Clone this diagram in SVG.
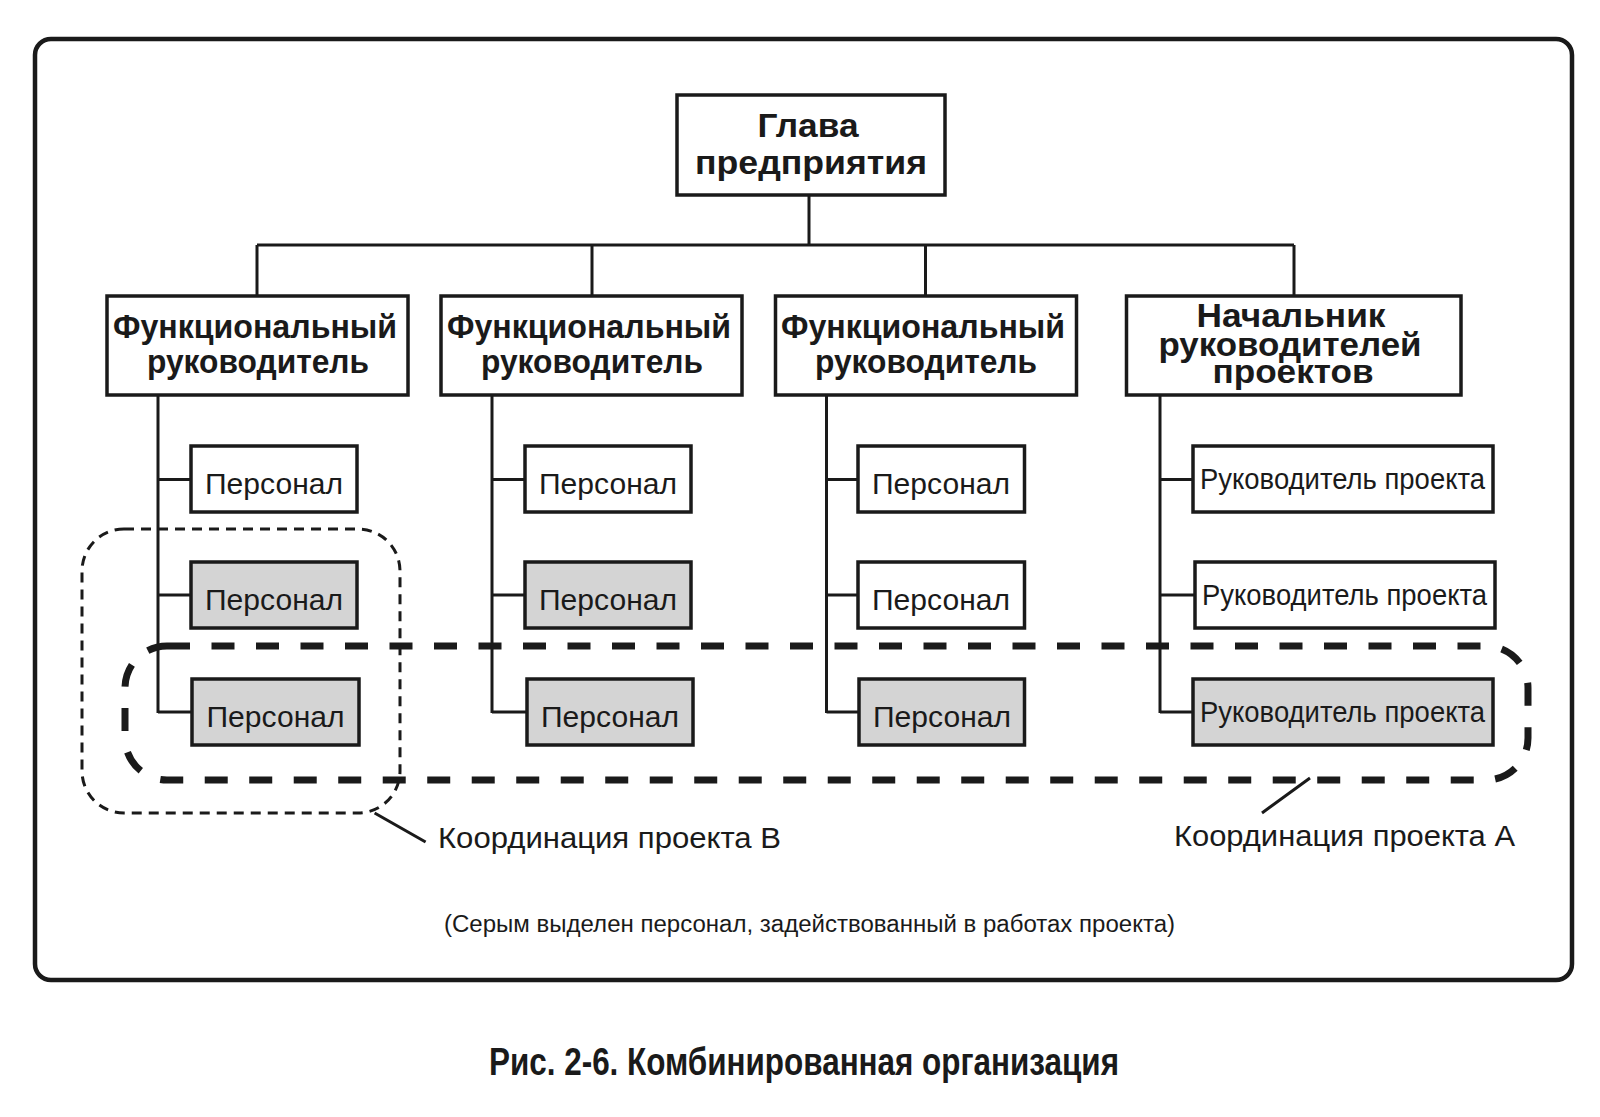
<svg xmlns="http://www.w3.org/2000/svg" width="1600" height="1117" viewBox="0 0 1600 1117">
<style>
.frame{fill:#fff;stroke:#1a1a1a;stroke-width:4.5}
.box{fill:#fff;stroke:#1a1a1a;stroke-width:3.5}
.grey{fill:#d4d4d4}
.ln{fill:none;stroke:#1a1a1a;stroke-width:3}
.hd{font-family:"Liberation Sans Narrow","Liberation Sans",Arial,sans-serif;font-weight:bold;font-size:34px;fill:#1a1a1a;text-anchor:middle}
.pt{font-family:"Liberation Sans","Noto Sans",Arial,sans-serif;font-size:29px;fill:#1a1a1a;text-anchor:middle}
.lbl{font-family:"Liberation Sans","Noto Sans",Arial,sans-serif;font-size:30px;fill:#1a1a1a}
.note{font-family:"Liberation Sans","Noto Sans",Arial,sans-serif;font-size:23px;fill:#1a1a1a;text-anchor:middle}
.cap{font-family:"Liberation Sans Narrow","Liberation Sans",Arial,sans-serif;font-weight:bold;font-size:38px;fill:#1a1a1a;text-anchor:middle}
.projA{fill:none;stroke:#1a1a1a;stroke-width:7;stroke-dasharray:23 21.5}
.projB{fill:none;stroke:#1a1a1a;stroke-width:3;stroke-dasharray:10 7}
</style>
<rect x="0" y="0" width="1600" height="1117" fill="#fff"/>
<rect class="frame" x="35" y="39" width="1537" height="941" rx="16"/>

<g id="connectors">
<path class="ln" d="M809 195V245M257 245H1294M257 245V296M592 245V296M925.5 245V296M1294 245V296"/>
<path class="ln" d="M158 395V713M158 479.5H191M158 595H191M158 712H192"/>
<path class="ln" d="M492 395V713M492 479.5H525M492 595H525M492 712H527"/>
<path class="ln" d="M826.5 395V713M826.5 479.5H858M826.5 595H858M826.5 712H859"/>
<path class="ln" d="M1160 395V713M1160 479.5H1193M1160 595H1195M1160 712H1193"/>
<path class="ln" d="M374.6 813L425.6 842M1310 778L1262 813"/>
</g>

<g id="head">
<rect class="box" x="677" y="95" width="268" height="100"/>
<text class="hd" x="808" y="137" font-size="34" textLength="101" lengthAdjust="spacingAndGlyphs">Глава</text>
<text class="hd" x="811" y="174" font-size="34" textLength="232" lengthAdjust="spacingAndGlyphs">предприятия</text>
</g>

<g id="func1">
<rect class="box" x="107" y="296" width="301" height="99"/>
<text class="hd" x="255" y="338" textLength="284" lengthAdjust="spacingAndGlyphs">Функциональный</text>
<text class="hd" x="258" y="373" textLength="222" lengthAdjust="spacingAndGlyphs">руководитель</text>
</g>
<g id="func2">
<rect class="box" x="441" y="296" width="301" height="99"/>
<text class="hd" x="589" y="338" textLength="284" lengthAdjust="spacingAndGlyphs">Функциональный</text>
<text class="hd" x="592" y="373" textLength="222" lengthAdjust="spacingAndGlyphs">руководитель</text>
</g>
<g id="func3">
<rect class="box" x="775.5" y="296" width="301" height="99"/>
<text class="hd" x="923" y="338" textLength="284" lengthAdjust="spacingAndGlyphs">Функциональный</text>
<text class="hd" x="926" y="373" textLength="222" lengthAdjust="spacingAndGlyphs">руководитель</text>
</g>
<g id="pmhead">
<rect class="box" x="1126.5" y="296" width="334.5" height="99"/>
<text class="hd" x="1291" y="327" font-size="33" textLength="189" lengthAdjust="spacingAndGlyphs">Начальник</text>
<text class="hd" x="1290" y="356" font-size="33" textLength="263" lengthAdjust="spacingAndGlyphs">руководителей</text>
<text class="hd" x="1293" y="383" font-size="33" textLength="161" lengthAdjust="spacingAndGlyphs">проектов</text>
</g>

<g id="staff1a"><rect class="box" x="191" y="446" width="166" height="66"/><text class="pt" x="274" y="494" textLength="138" lengthAdjust="spacingAndGlyphs">Персонал</text></g>
<g id="staff1b"><rect class="box grey" x="191" y="562" width="166" height="66"/><text class="pt" x="274" y="610" textLength="138" lengthAdjust="spacingAndGlyphs">Персонал</text></g>
<g id="staff1c"><rect class="box grey" x="192" y="679" width="167" height="66"/><text class="pt" x="275.5" y="727" textLength="138" lengthAdjust="spacingAndGlyphs">Персонал</text></g>

<g id="staff2a"><rect class="box" x="525" y="446" width="166" height="66"/><text class="pt" x="608" y="494" textLength="138" lengthAdjust="spacingAndGlyphs">Персонал</text></g>
<g id="staff2b"><rect class="box grey" x="525" y="562" width="166" height="66"/><text class="pt" x="608" y="610" textLength="138" lengthAdjust="spacingAndGlyphs">Персонал</text></g>
<g id="staff2c"><rect class="box grey" x="527" y="679" width="166" height="66"/><text class="pt" x="610" y="727" textLength="138" lengthAdjust="spacingAndGlyphs">Персонал</text></g>

<g id="staff3a"><rect class="box" x="858" y="446" width="166.5" height="66"/><text class="pt" x="941" y="494" textLength="138" lengthAdjust="spacingAndGlyphs">Персонал</text></g>
<g id="staff3b"><rect class="box" x="858" y="562" width="166.5" height="66"/><text class="pt" x="941" y="610" textLength="138" lengthAdjust="spacingAndGlyphs">Персонал</text></g>
<g id="staff3c"><rect class="box grey" x="859" y="679" width="165.5" height="66"/><text class="pt" x="942" y="727" textLength="138" lengthAdjust="spacingAndGlyphs">Персонал</text></g>

<g id="pm1"><rect class="box" x="1193" y="446" width="300" height="66"/><text class="pt" x="1342.5" y="489" textLength="285" lengthAdjust="spacingAndGlyphs">Руководитель проекта</text></g>
<g id="pm2"><rect class="box" x="1195" y="562" width="300" height="66"/><text class="pt" x="1344.5" y="605" textLength="285" lengthAdjust="spacingAndGlyphs">Руководитель проекта</text></g>
<g id="pm3"><rect class="box grey" x="1193" y="679" width="300" height="66"/><text class="pt" x="1342.5" y="722" textLength="285" lengthAdjust="spacingAndGlyphs">Руководитель проекта</text></g>

<g id="projectB">
<rect class="projB" x="82" y="529" width="318" height="284" rx="42"/>
<text class="lbl" x="438" y="848" textLength="343" lengthAdjust="spacingAndGlyphs">Координация проекта В</text>
</g>
<g id="projectA">
<rect class="projA" x="125" y="646" width="1403" height="134" rx="42"/>
<text class="lbl" x="1174" y="846" textLength="341" lengthAdjust="spacingAndGlyphs">Координация проекта А</text>
</g>

<text class="note" x="809.5" y="932" textLength="731" lengthAdjust="spacingAndGlyphs">(Серым выделен персонал, задействованный в работах проекта)</text>
<text class="cap" x="804" y="1075" textLength="630" lengthAdjust="spacingAndGlyphs">Рис. 2-6. Комбинированная организация</text>
</svg>
